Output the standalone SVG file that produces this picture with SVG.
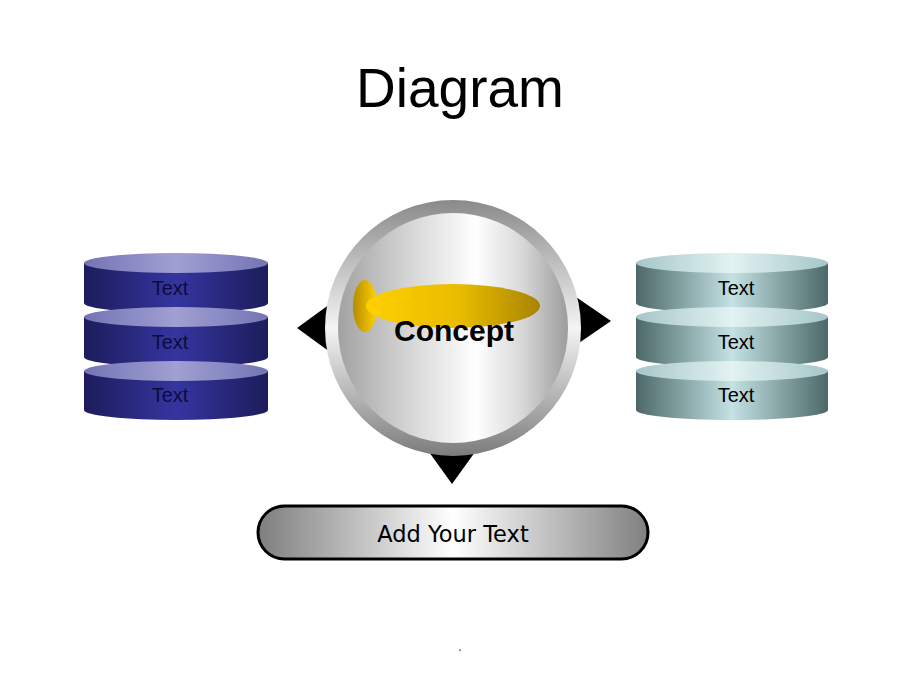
<svg xmlns="http://www.w3.org/2000/svg" width="920" height="690" viewBox="0 0 920 690">
  <defs>
    <linearGradient id="ringG" x1="0" y1="0" x2="0" y2="1">
      <stop offset="0" stop-color="#8a8a8a"/>
      <stop offset="0.5" stop-color="#f4f4f4"/>
      <stop offset="1" stop-color="#7c7c7c"/>
    </linearGradient>
    <linearGradient id="innerG" x1="0" y1="0" x2="1" y2="0">
      <stop offset="0" stop-color="#a2a2a2"/>
      <stop offset="0.3" stop-color="#d4d4d4"/>
      <stop offset="0.6" stop-color="#ffffff"/>
      <stop offset="0.8" stop-color="#d8d8d8"/>
      <stop offset="1" stop-color="#9c9c9c"/>
    </linearGradient>
    <linearGradient id="goldG" x1="0" y1="0" x2="1" y2="0">
      <stop offset="0" stop-color="#ffd000"/>
      <stop offset="0.55" stop-color="#e8bb00"/>
      <stop offset="1" stop-color="#a88400"/>
    </linearGradient>
    <linearGradient id="goldS" x1="0" y1="0" x2="1" y2="0">
      <stop offset="0" stop-color="#b58c00"/>
      <stop offset="1" stop-color="#ffd200"/>
    </linearGradient>
    <linearGradient id="pillG" x1="0" y1="0" x2="1" y2="0">
      <stop offset="0" stop-color="#7e7e7e"/>
      <stop offset="0.5" stop-color="#ffffff"/>
      <stop offset="1" stop-color="#808080"/>
    </linearGradient>
    <linearGradient id="navyBody" x1="0" y1="0" x2="1" y2="0">
      <stop offset="0" stop-color="#1c1c5c"/>
      <stop offset="0.5" stop-color="#3535a0"/>
      <stop offset="1" stop-color="#1c1c5c"/>
    </linearGradient>
    <linearGradient id="navyTop" x1="0" y1="0" x2="1" y2="0">
      <stop offset="0" stop-color="#7474b6"/>
      <stop offset="0.5" stop-color="#a0a0d2"/>
      <stop offset="1" stop-color="#7474b6"/>
    </linearGradient>
    <linearGradient id="tealBody" x1="0" y1="0" x2="1" y2="0">
      <stop offset="0" stop-color="#4c6868"/>
      <stop offset="0.5" stop-color="#c4e2e4"/>
      <stop offset="1" stop-color="#4c6868"/>
    </linearGradient>
    <linearGradient id="tealTop" x1="0" y1="0" x2="1" y2="0">
      <stop offset="0" stop-color="#a6c6c8"/>
      <stop offset="0.5" stop-color="#e2f2f2"/>
      <stop offset="1" stop-color="#a6c6c8"/>
    </linearGradient>
    <style>
      .lbl { font-family: "Liberation Sans", Arial, sans-serif; font-size: 20px; text-anchor: middle; }
      .navy .lbl { fill: #0c0c3c; }
      .teal .lbl { fill: #000000; }
      .navy .body { fill: url(#navyBody); }
      .navy .top { fill: url(#navyTop); }
      .teal .body { fill: url(#tealBody); }
      .teal .top { fill: url(#tealTop); }
      .arrow { fill: #000000; }
    </style>
  </defs>

  <rect width="920" height="690" fill="#ffffff"/>

  <text x="460" y="107" font-family="Liberation Sans, Arial, sans-serif" font-size="55" text-anchor="middle" fill="#000">Diagram</text>

  <g id="connectors">
    <polygon class="arrow" points="297,328 330,304 330,352"/>
    <polygon class="arrow" points="611,321 576,297 576,345"/>
    <polygon class="arrow" points="452,484 429,452 475,452"/>
  </g>

  <g id="left-stack" class="navy">
    <g id="left-1">
      <path class="body" d="M84,263 L268,263 L268,303 A92,10 0 0 1 84,303 Z"/>
      <ellipse class="top" cx="176" cy="263" rx="92" ry="10"/>
      <text class="lbl" x="170" y="295">Text</text>
    </g>
    <g id="left-2">
      <path class="body" d="M84,317 L268,317 L268,357 A92,10 0 0 1 84,357 Z"/>
      <ellipse class="top" cx="176" cy="317" rx="92" ry="10"/>
      <text class="lbl" x="170" y="349">Text</text>
    </g>
    <g id="left-3">
      <path class="body" d="M84,371 L268,371 L268,410 A92,10 0 0 1 84,410 Z"/>
      <ellipse class="top" cx="176" cy="371" rx="92" ry="10"/>
      <text class="lbl" x="170" y="402">Text</text>
    </g>
  </g>

  <g id="right-stack" class="teal">
    <g id="right-1">
      <path class="body" d="M636,263 L828,263 L828,303 A96,10 0 0 1 636,303 Z"/>
      <ellipse class="top" cx="732" cy="263" rx="96" ry="10"/>
      <text class="lbl" x="736" y="295">Text</text>
    </g>
    <g id="right-2">
      <path class="body" d="M636,317 L828,317 L828,357 A96,10 0 0 1 636,357 Z"/>
      <ellipse class="top" cx="732" cy="317" rx="96" ry="10"/>
      <text class="lbl" x="736" y="349">Text</text>
    </g>
    <g id="right-3">
      <path class="body" d="M636,371 L828,371 L828,410 A96,10 0 0 1 636,410 Z"/>
      <ellipse class="top" cx="732" cy="371" rx="96" ry="10"/>
      <text class="lbl" x="736" y="402">Text</text>
    </g>
  </g>

  <g id="concept">
    <circle cx="453" cy="328" r="128" fill="url(#ringG)"/>
    <circle cx="453" cy="328" r="115" fill="url(#innerG)"/>
    <ellipse cx="365" cy="306" rx="12" ry="26" fill="url(#goldS)"/>
    <ellipse cx="453" cy="306" rx="87" ry="22" fill="url(#goldG)"/>
    <text x="454" y="341" font-family="Liberation Sans, Arial, sans-serif" font-size="30" font-weight="bold" text-anchor="middle" fill="#000">Concept</text>
  </g>

  <g id="add-text">
    <rect x="258" y="506" width="390" height="53" rx="26.5" ry="26.5" fill="url(#pillG)" stroke="#000" stroke-width="3"/>
    <text x="453" y="542" font-family="DejaVu Sans, Verdana, sans-serif" font-size="22.5" text-anchor="middle" fill="#000">Add Your Text</text>
  </g>

  <text x="460" y="651" font-family="Liberation Sans, Arial, sans-serif" font-size="14" text-anchor="middle" fill="#444">.</text>
</svg>
